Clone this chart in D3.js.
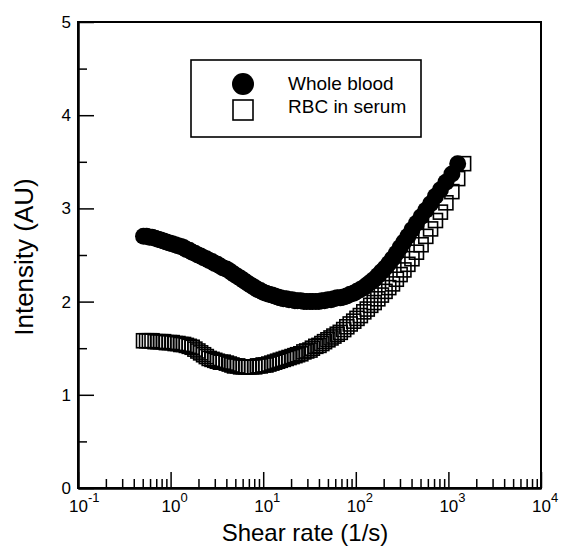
<!DOCTYPE html>
<html>
<head>
<meta charset="utf-8">
<script src="https://cdn.jsdelivr.net/npm/d3@7"></script>
<style>
  body { margin: 0; background: #fff; }
  svg { font-family: "Liberation Sans", Arial, sans-serif; }
</style>
</head>
<body>
<svg id="chart"></svg>
<script>
// shear rates (1/s), shared by both series; whole blood stops one point earlier
const shearRate = [0.51, 0.55, 0.59, 0.63, 0.68, 0.73, 0.78, 0.84, 0.90, 0.97,
  1.04, 1.12, 1.20, 1.29, 1.38, 1.48, 1.59, 1.71, 1.83, 1.97,
  2.11, 2.27, 2.43, 2.61, 2.80, 3.0, 3.2, 3.45, 3.7, 4.0,
  4.3, 4.6, 4.9, 5.3, 5.7, 6.1, 6.5, 7.0, 7.5, 8.1,
  8.7, 9.3, 10, 10.7, 11.5, 12.4, 13.3, 14.3, 15.3, 16.5,
  17.7, 19, 20.5, 22, 23.5, 25.5, 27.5, 29.5, 32, 34,
  37, 40, 43, 46, 50, 54, 58, 63, 68, 74,
  80, 87, 95, 103, 112, 122, 133, 145, 158, 173,
  189, 207, 227, 249, 274, 301, 331, 365, 404, 452,
  507, 570, 642, 725, 820, 940, 1090, 1260, 1460];

const wholeBlood = [2.70, 2.70, 2.69, 2.69, 2.68, 2.67, 2.66, 2.65, 2.64, 2.63,
  2.62, 2.61, 2.60, 2.59, 2.58, 2.56, 2.55, 2.53, 2.52, 2.50,
  2.49, 2.47, 2.46, 2.44, 2.43, 2.41, 2.40, 2.38, 2.36, 2.35,
  2.33, 2.31, 2.29, 2.27, 2.25, 2.23, 2.21, 2.19, 2.17, 2.15,
  2.13, 2.12, 2.10, 2.09, 2.08, 2.07, 2.06, 2.05, 2.04, 2.03,
  2.03, 2.02, 2.02, 2.01, 2.01, 2.01, 2.00, 2.00, 2.00, 2.00,
  2.00, 2.00, 2.01, 2.01, 2.02, 2.02, 2.03, 2.04, 2.04, 2.05,
  2.06, 2.08, 2.09, 2.11, 2.13, 2.15, 2.18, 2.21, 2.24, 2.28,
  2.32, 2.36, 2.41, 2.46, 2.52, 2.58, 2.64, 2.70, 2.77, 2.84,
  2.91, 2.98, 3.05, 3.13, 3.20, 3.28, 3.37, 3.48];

const rbcSerum = [1.58, 1.58, 1.58, 1.58, 1.57, 1.57, 1.57, 1.57, 1.56, 1.56,
  1.56, 1.55, 1.55, 1.54, 1.54, 1.53, 1.52, 1.51, 1.49, 1.47,
  1.45, 1.43, 1.41, 1.39, 1.38, 1.37, 1.36, 1.35, 1.35, 1.34,
  1.33, 1.32, 1.31, 1.31, 1.30, 1.30, 1.30, 1.30, 1.30, 1.30,
  1.31, 1.31, 1.32, 1.32, 1.33, 1.34, 1.35, 1.36, 1.37, 1.38,
  1.39, 1.40, 1.41, 1.42, 1.43, 1.44, 1.46, 1.47, 1.48, 1.50,
  1.52, 1.53, 1.55, 1.57, 1.59, 1.61, 1.63, 1.65, 1.67, 1.70,
  1.73, 1.76, 1.79, 1.82, 1.85, 1.89, 1.92, 1.96, 1.99, 2.03,
  2.07, 2.11, 2.15, 2.19, 2.24, 2.29, 2.34, 2.40, 2.46, 2.53,
  2.61, 2.70, 2.78, 2.87, 2.96, 3.06, 3.18, 3.32, 3.48];

const xMajorTicks = [0.1, 1, 10, 100, 1000, 10000];
const yMajorTicks = [0, 1, 2, 3, 4, 5];
const yMinorTicks = [0.5, 1.5, 2.5, 3.5, 4.5];
const seriesNames = ["Whole blood", "RBC in serum"];

const width = 564, height = 547;
const svg = d3.select("#chart").attr("width", width).attr("height", height);

const x = d3.scaleLog().domain([0.1, 10000]).range([78, 541]);
const y = d3.scaleLinear().domain([0, 5]).range([488, 22]);

// minor x ticks 2..9 of every decade
const xMinorTicks = [];
xMajorTicks.slice(0, -1).forEach(d => {
  for (let k = 2; k <= 9; k++) xMinorTicks.push(d * k);
});

// frame
svg.append("rect")
  .attr("x", 78).attr("y", 22)
  .attr("width", 541 - 78).attr("height", 488 - 22)
  .attr("fill", "none").attr("stroke", "#000").attr("stroke-width", 2);

// x axis
const gx = svg.append("g").attr("transform", "translate(0,488)");
gx.call(d3.axisBottom(x).tickValues(xMajorTicks).tickSizeInner(-16).tickSizeOuter(0));
gx.selectAll(".tick text").each(function(d) {
  const t = d3.select(this).text(null)
    .attr("text-anchor", "start").attr("x", -9.5).attr("y", 24).attr("dy", null)
    .attr("font-size", 17).attr("fill", "#000");
  t.append("tspan").text("10");
  t.append("tspan").attr("dy", -10).attr("font-size", 13).text(Math.round(Math.log10(d)));
});
gx.append("g").call(d3.axisBottom(x).tickValues(xMinorTicks).tickSizeInner(-9).tickSizeOuter(0).tickFormat(""));
gx.selectAll("path.domain").attr("stroke-width", 2);
gx.selectAll(".tick line").attr("stroke-width", 1.5);

// y axis
const gy = svg.append("g").attr("transform", "translate(78,0)");
gy.call(d3.axisLeft(y).tickValues(yMajorTicks).tickFormat(d3.format("d"))
  .tickSizeInner(-16).tickSizeOuter(0).tickPadding(7));
gy.selectAll(".tick text").attr("font-size", 17).attr("fill", "#000");
gy.append("g").call(d3.axisLeft(y).tickValues(yMinorTicks).tickSizeInner(-9).tickSizeOuter(0).tickFormat(""));
gy.selectAll("path.domain").attr("stroke-width", 2);
gy.selectAll(".tick line").attr("stroke-width", 1.5);

// axis titles
svg.append("text")
  .attr("x", 305).attr("y", 541)
  .attr("text-anchor", "middle").attr("font-size", 24)
  .text("Shear rate (1/s)");
svg.append("text")
  .attr("transform", "translate(33,257) rotate(-90)")
  .attr("text-anchor", "middle").attr("font-size", 26)
  .text("Intensity (AU)");

// RBC in serum: open squares
const sq = 14;
svg.append("g").selectAll("rect")
  .data(rbcSerum.map((v, i) => [shearRate[i], v]))
  .join("rect")
  .attr("x", d => x(d[0]) - sq / 2)
  .attr("y", d => y(d[1]) - sq / 2)
  .attr("width", sq).attr("height", sq)
  .attr("fill", "none").attr("stroke", "#000").attr("stroke-width", 1.6);

// whole blood: filled circles
svg.append("g").selectAll("circle")
  .data(wholeBlood.map((v, i) => [shearRate[i], v]))
  .join("circle")
  .attr("cx", d => x(d[0]))
  .attr("cy", d => y(d[1]))
  .attr("r", 8.5)
  .attr("fill", "#000");

// legend
const legend = svg.append("g");
legend.append("rect")
  .attr("x", 191).attr("y", 60).attr("width", 230).attr("height", 77)
  .attr("fill", "#fff").attr("stroke", "#000").attr("stroke-width", 1.6);
legend.append("circle").attr("cx", 243).attr("cy", 84).attr("r", 11).attr("fill", "#000");
legend.append("rect")
  .attr("x", 233).attr("y", 100).attr("width", 20).attr("height", 20)
  .attr("fill", "none").attr("stroke", "#000").attr("stroke-width", 1.6);
legend.selectAll("text.lbl")
  .data(seriesNames)
  .join("text")
  .attr("class", "lbl")
  .attr("x", 288)
  .attr("y", (d, i) => 90 + i * 23)
  .attr("font-size", 19)
  .text(d => d);
</script>
</body>
</html>
